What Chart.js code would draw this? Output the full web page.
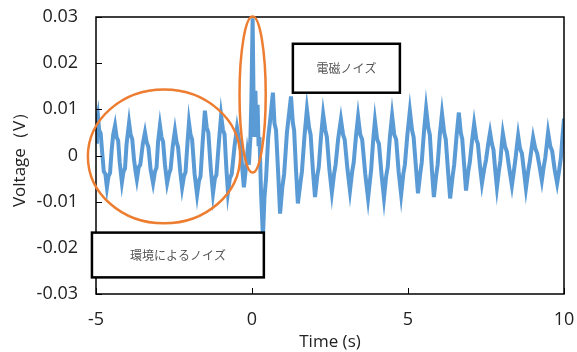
<!DOCTYPE html>
<html>
<head>
<meta charset="utf-8">
<script src="https://cdn.jsdelivr.net/npm/chart.js@4/dist/chart.umd.min.js"></script>
<style>
  html, body { margin: 0; padding: 0; background: #fff; }
  #wrap { width: 577px; height: 352px; }
</style>
</head>
<body>
<div id="wrap"><canvas id="myChart" width="577" height="352"></canvas></div>
<script>
// time axis (s) and voltage (V)
var times = [
  -5.00, -4.97, -4.94, -4.90, -4.85, -4.80, -4.75, -4.70, -4.65, -4.60, -4.55, -4.50, -4.45, -4.39,
  -4.34, -4.29, -4.24, -4.17, -4.12, -4.07, -4.02, -3.94, -3.89, -3.84, -3.78, -3.73, -3.69, -3.63,
  -3.58, -3.50, -3.43, -3.38, -3.32, -3.25, -3.17, -3.11, -3.06, -3.01, -2.95, -2.90, -2.85, -2.79,
  -2.72, -2.66, -2.61, -2.54, -2.47, -2.42, -2.37, -2.30, -2.24, -2.18, -2.13, -2.07, -2.02, -1.97,
  -1.92, -1.84, -1.76, -1.70, -1.65, -1.58, -1.51, -1.45, -1.40, -1.32, -1.25, -1.19, -1.14, -1.06,
  -0.99, -0.93, -0.88, -0.82, -0.77, -0.71, -0.65, -0.56, -0.48, -0.42, -0.37, -0.31, -0.26, -0.20,
  -0.15, -0.10, -0.05, -0.02, 0.02, 0.05, 0.08, 0.11, 0.14, 0.18, 0.21, 0.24, 0.29, 0.35,
  0.40, 0.45, 0.52, 0.58, 0.67, 0.72, 0.77, 0.84, 0.90, 0.97, 1.03, 1.12, 1.25, 1.31,
  1.35, 1.41, 1.47, 1.55, 1.60, 1.68, 1.76, 1.83, 1.88, 1.95, 2.02, 2.09, 2.14, 2.21,
  2.28, 2.35, 2.40, 2.48, 2.56, 2.63, 2.68, 2.76, 2.85, 2.92, 2.97, 3.06, 3.14, 3.21,
  3.26, 3.33, 3.40, 3.47, 3.53, 3.63, 3.72, 3.78, 3.82, 3.88, 3.94, 4.01, 4.07, 4.15,
  4.23, 4.30, 4.35, 4.42, 4.49, 4.56, 4.62, 4.70, 4.78, 4.85, 4.90, 4.98, 5.06, 5.13,
  5.18, 5.26, 5.32, 5.39, 5.44, 5.51, 5.58, 5.65, 5.70, 5.77, 5.83, 5.90, 5.95, 6.02,
  6.09, 6.16, 6.21, 6.29, 6.35, 6.43, 6.48, 6.56, 6.63, 6.69, 6.74, 6.81, 6.86, 6.93,
  6.98, 7.05, 7.12, 7.19, 7.24, 7.31, 7.37, 7.44, 7.50, 7.57, 7.63, 7.69, 7.74, 7.80,
  7.85, 7.91, 7.96, 8.00, 8.04, 8.11, 8.17, 8.25, 8.33, 8.39, 8.44, 8.49, 8.53, 8.59,
  8.65, 8.72, 8.78, 8.85, 8.90, 8.96, 9.01, 9.08, 9.14, 9.22, 9.29, 9.35, 9.40, 9.45,
  9.49, 9.56, 9.62, 9.70, 9.78, 9.85, 9.90, 9.95, 10.00
];
var volts = [
  0.0030, 0.0075, 0.0087, 0.0055, 0.0048, 0.0005, -0.0035, -0.0040, -0.0069, -0.0045, -0.0038, 0.0010, 0.0045, 0.0065,
  0.0040, 0.0032, -0.0015, -0.0058, -0.0035, -0.0028, 0.0025, 0.0071, 0.0045, 0.0036, -0.0010, -0.0035, -0.0052, -0.0025,
  -0.0020, 0.0025, 0.0050, 0.0030, 0.0018, -0.0030, -0.0060, -0.0035, -0.0026, 0.0030, 0.0065, 0.0040, 0.0030, -0.0020,
  -0.0060, -0.0040, -0.0030, 0.0020, 0.0054, 0.0030, 0.0018, -0.0035, -0.0070, -0.0045, -0.0036, 0.0025, 0.0071, 0.0045,
  0.0035, -0.0040, -0.0085, -0.0055, -0.0045, 0.0030, 0.0097, 0.0060, 0.0050, -0.0030, -0.0082, -0.0050, -0.0042, 0.0030,
  0.0087, 0.0055, 0.0046, -0.0030, -0.0080, -0.0050, -0.0040, 0.0020, 0.0060, 0.0035, 0.0025, -0.0030, -0.0069, -0.0030,
  0.0005, -0.0020, 0.0040, 0.0120, 0.0297, 0.0120, 0.0040, 0.0140, 0.0060, 0.0110, 0.0020, 0.0040, -0.0080, -0.0177,
  -0.0090, -0.0050, 0.0040, 0.0075, 0.0136, 0.0070, 0.0055, -0.0040, -0.0126, -0.0070, -0.0040, 0.0050, 0.0128, 0.0070,
  0.0055, -0.0030, -0.0104, -0.0060, -0.0035, 0.0040, 0.0100, 0.0060, 0.0045, -0.0030, -0.0090, -0.0045, -0.0025, 0.0040,
  0.0090, 0.0055, 0.0040, -0.0030, -0.0080, -0.0040, -0.0020, 0.0035, 0.0078, 0.0045, 0.0035, -0.0030, -0.0076, -0.0035,
  -0.0015, 0.0040, 0.0084, 0.0045, 0.0035, -0.0040, -0.0093, -0.0055, -0.0030, 0.0030, 0.0075, 0.0035, 0.0025, -0.0040,
  -0.0092, -0.0045, -0.0025, 0.0040, 0.0087, 0.0045, 0.0035, -0.0035, -0.0085, -0.0040, -0.0020, 0.0045, 0.0097, 0.0055,
  0.0040, -0.0030, -0.0082, -0.0040, -0.0015, 0.0050, 0.0102, 0.0060, 0.0045, -0.0035, -0.0090, -0.0045, -0.0020, 0.0045,
  0.0091, 0.0050, 0.0035, -0.0040, -0.0093, -0.0045, -0.0020, 0.0045, 0.0093, 0.0050, 0.0035, -0.0030, -0.0076, -0.0035,
  -0.0015, 0.0030, 0.0069, 0.0035, 0.0025, -0.0025, -0.0060, -0.0030, -0.0010, 0.0025, 0.0050, 0.0025, 0.0012, -0.0035,
  -0.0069, -0.0035, -0.0012, 0.0020, 0.0048, 0.0020, 0.0008, -0.0030, -0.0065, -0.0035, -0.0010, 0.0020, 0.0043, 0.0015,
  0.0005, -0.0035, -0.0071, -0.0035, -0.0015, 0.0015, 0.0039, 0.0015, 0.0005, -0.0025, -0.0054, -0.0025, -0.0005, 0.0025,
  0.0050, 0.0020, 0.0010, -0.0030, -0.0060, -0.0030, -0.0005, 0.0040, 0.0080
];

// note boxes and circled areas, in axis units
var boxTexts = ['電磁ノイズ', '環境によるノイズ'];
var boxX1 = [1.31, -5.13];
var boxX2 = [4.74, 0.38];
var boxY1 = [0.0242, -0.0167];
var boxY2 = [0.0136, -0.0264];
var ringX = [-2.82, 0.02];
var ringY = [-0.0002, 0.0132];
var ringRx = [2.44, 0.42];
var ringRy = [0.0145, 0.0169];

var points = times.map(function (t, i) { return { x: t, y: volts[i] }; });

var frameAndNotes = {
    id: 'frameAndNotes',
    afterDatasetsDraw: function (chart) {
        var c = chart.ctx;
        var xs = chart.scales.x, ys = chart.scales.y;
        var a = chart.chartArea;
        c.save();
        // inward ticks
        c.strokeStyle = '#000';
        c.lineWidth = 1;
        ys.ticks.forEach(function (tk) {
            var py = Math.round(ys.getPixelForValue(tk.value)) + 0.5;
            c.beginPath(); c.moveTo(a.left, py); c.lineTo(a.left + 6, py); c.stroke();
        });
        xs.ticks.forEach(function (tk) {
            var px = Math.round(xs.getPixelForValue(tk.value)) + 0.5;
            c.beginPath(); c.moveTo(px, a.bottom); c.lineTo(px, a.bottom - 6); c.stroke();
        });
        // frame
        c.lineWidth = 1.5;
        c.strokeRect(a.left, a.top, a.right - a.left, a.bottom - a.top);
        // ellipses
        c.strokeStyle = '#ED7D31';
        c.lineWidth = 2.5;
        for (var i = 0; i < ringX.length; i++) {
            var cx = xs.getPixelForValue(ringX[i]);
            var cy = ys.getPixelForValue(ringY[i]);
            var rx = xs.getPixelForValue(ringX[i] + ringRx[i]) - cx;
            var ry = cy - ys.getPixelForValue(ringY[i] + ringRy[i]);
            c.beginPath();
            c.ellipse(cx, cy, rx, ry, 0, 0, Math.PI * 2);
            c.stroke();
        }
        // boxes
        for (var j = 0; j < boxTexts.length; j++) {
            var x1 = xs.getPixelForValue(boxX1[j]), x2 = xs.getPixelForValue(boxX2[j]);
            var y1 = ys.getPixelForValue(boxY1[j]), y2 = ys.getPixelForValue(boxY2[j]);
            c.fillStyle = '#fff';
            c.fillRect(x1, y1, x2 - x1, y2 - y1);
            c.strokeStyle = '#000';
            c.lineWidth = 2.5;
            c.strokeRect(x1, y1, x2 - x1, y2 - y1);
            c.fillStyle = '#555';
            c.font = '12px "Noto Sans CJK JP"';
            c.textAlign = 'center';
            c.textBaseline = 'middle';
            c.fillText(boxTexts[j], (x1 + x2) / 2, (y1 + y2) / 2);
        }
        c.restore();
    }
};

var ctx = document.getElementById('myChart');
new Chart(ctx, {
    type: 'line',
    data: {
        datasets: [{
            data: points,
            borderColor: '#5B9BD5',
            borderWidth: 4,
            pointRadius: 0,
            tension: 0,
            fill: false
        }]
    },
    options: {
        responsive: false,
        animation: false,
        layout: { padding: { top: 17, right: 13, left: 0, bottom: 0 } },
        plugins: {
            legend: { display: false },
            tooltip: { enabled: false }
        },
        scales: {
            x: {
                type: 'linear',
                min: -5,
                max: 10,
                afterFit: function (s) {
                    s.height = 58;
                    s.paddingLeft = 0;
                    s.paddingRight = 0;
                },
                ticks: {
                    stepSize: 5,
                    color: '#222',
                    padding: 15,
                    font: { family: 'Open Sans', size: 18 }
                },
                grid: { display: false, drawTicks: false },
                border: { display: false },
                title: {
                    display: true,
                    text: 'Time (s)',
                    color: '#222',
                    padding: { top: -4, bottom: 0 },
                    font: { family: 'Open Sans', size: 17 }
                }
            },
            y: {
                min: -0.03,
                max: 0.03,
                afterFit: function (s) {
                    s.width = 96;
                    s.paddingTop = 0;
                    s.paddingBottom = 0;
                },
                ticks: {
                    stepSize: 0.01,
                    color: '#222',
                    padding: 18,
                    font: { family: 'Open Sans', size: 18 },
                    callback: function (v) {
                        var r = Math.round(v * 100) / 100;
                        return r === 0 ? '0' : r.toFixed(2);
                    }
                },
                grid: { display: false, drawTicks: false },
                border: { display: false },
                title: {
                    display: true,
                    text: 'Voltage（V）',
                    color: '#222',
                    padding: { top: 10, bottom: 0 },
                    font: { family: 'Open Sans', size: 17 }
                }
            }
        }
    },
    plugins: [frameAndNotes]
});
</script>
</body>
</html>
